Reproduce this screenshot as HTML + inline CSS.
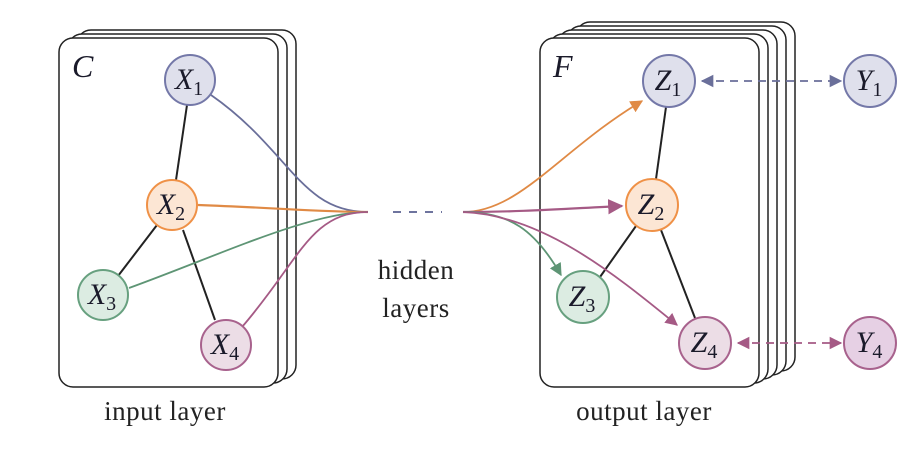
<!DOCTYPE html>
<html><head><meta charset="utf-8"><style>
html,body{margin:0;padding:0;background:#fff;}
svg{display:block;}
text{font-family:"Liberation Serif",serif;}
.m{font-style:italic;font-size:30px;fill:#1a1a2a;}
.s{font-size:20px;font-style:normal;}
</style></head><body>
<svg width="920" height="450" viewBox="0 0 920 450" xmlns="http://www.w3.org/2000/svg">
<defs>
<marker id="ao" viewBox="0 0 10 10" refX="9" refY="5" markerWidth="7" markerHeight="7" orient="auto-start-reverse"><path d="M0,0L10,5L0,10z" fill="#e08a45"/></marker>
<marker id="ap" viewBox="0 0 10 10" refX="9" refY="5" markerWidth="7" markerHeight="7" orient="auto-start-reverse"><path d="M0,0L10,5L0,10z" fill="#a55a85"/></marker>
<marker id="ag" viewBox="0 0 10 10" refX="9" refY="5" markerWidth="7" markerHeight="7" orient="auto-start-reverse"><path d="M0,0L10,5L0,10z" fill="#5e9575"/></marker>
<marker id="ab" viewBox="0 0 10 10" refX="9" refY="5" markerWidth="7" markerHeight="7" orient="auto-start-reverse"><path d="M0,0L10,5L0,10z" fill="#6a6f9a"/></marker>
</defs>
<g fill="#fff" stroke="#222" stroke-width="1.5">
<rect x="77" y="30" width="219" height="349" rx="14"/>
<rect x="68" y="34" width="219" height="349" rx="14"/>
<rect x="59" y="38" width="219" height="349" rx="14"/>
<rect x="576" y="22" width="219" height="349" rx="14"/>
<rect x="567" y="26" width="219" height="349" rx="14"/>
<rect x="558" y="30" width="219" height="349" rx="14"/>
<rect x="549" y="34" width="219" height="349" rx="14"/>
<rect x="540" y="38" width="219" height="349" rx="14"/>
</g>
<text x="72" y="77" class="m" style="font-size:32px">C</text>
<text x="553" y="77" class="m" style="font-size:32px">F</text>
<g stroke="#222" stroke-width="2">
<line x1="187" y1="105" x2="176" y2="180"/>
<line x1="157" y1="225" x2="118" y2="276"/>
<line x1="183" y1="230" x2="215" y2="320"/>
<line x1="666" y1="107" x2="656" y2="179"/>
<line x1="636" y1="226" x2="600" y2="277"/>
<line x1="661" y1="230" x2="695" y2="318"/>
</g>
<g fill="none" stroke-width="1.8">
<path d="M211,95 C290,150 300,212 368,212" stroke="#6a6f9a"/>
<path d="M198,205 C280,208 320,212 368,212" stroke="#e08a45" stroke-width="2.2"/>
<path d="M129,288 C220,255 310,212 368,212" stroke="#5e9575"/>
<path d="M242,327 C300,260 310,212 368,212" stroke="#a55a85"/>
<line x1="393" y1="212" x2="442" y2="212" stroke="#5a6090" stroke-dasharray="8,8"/>
<path d="M463,212 C520,212 560,150 642,101" stroke="#e08a45" marker-end="url(#ao)"/>
<path d="M463,212 C520,212 560,209 622,206" stroke="#a55a85" stroke-width="2.2" marker-end="url(#ap)"/>
<path d="M463,212 C510,212 535,230 561,275" stroke="#5e9575" marker-end="url(#ag)"/>
<path d="M463,212 C540,215 610,270 677,325" stroke="#a55a85" marker-end="url(#ap)"/>
<line x1="702" y1="81" x2="841" y2="81" stroke="#6a6f9a" stroke-dasharray="8,6" marker-start="url(#ab)" marker-end="url(#ab)"/>
<line x1="738" y1="343" x2="841" y2="343" stroke="#a55a85" stroke-dasharray="8,6" marker-start="url(#ap)" marker-end="url(#ap)"/>
</g>
<g stroke-width="2">
<circle cx="190" cy="80" r="25" fill="#dfe0ec" stroke="#7478a8"/>
<circle cx="172" cy="205" r="25" fill="#fce6d4" stroke="#ef9147"/>
<circle cx="103" cy="295" r="25" fill="#dcece2" stroke="#67a07f"/>
<circle cx="226" cy="345" r="25" fill="#ecdde6" stroke="#a8628d"/>
<circle cx="669" cy="81" r="26" fill="#dfe0ec" stroke="#7478a8"/>
<circle cx="652" cy="205" r="26" fill="#fce6d4" stroke="#ef9147"/>
<circle cx="583" cy="297" r="26" fill="#dcece2" stroke="#67a07f"/>
<circle cx="705" cy="343" r="26" fill="#ecdde6" stroke="#a8628d"/>
<circle cx="870" cy="81" r="26" fill="#dfe0ec" stroke="#7478a8"/>
<circle cx="870" cy="343" r="26" fill="#e6d0e4" stroke="#a8628d"/>
</g>
<g class="m" text-anchor="middle">
<text x="189" y="89">X<tspan class="s" dy="6">1</tspan></text>
<text x="171" y="214">X<tspan class="s" dy="6">2</tspan></text>
<text x="102" y="304">X<tspan class="s" dy="6">3</tspan></text>
<text x="225" y="354">X<tspan class="s" dy="6">4</tspan></text>
<text x="668" y="90">Z<tspan class="s" dy="6">1</tspan></text>
<text x="651" y="214">Z<tspan class="s" dy="6">2</tspan></text>
<text x="582" y="306">Z<tspan class="s" dy="6">3</tspan></text>
<text x="704" y="352">Z<tspan class="s" dy="6">4</tspan></text>
<text x="869" y="90">Y<tspan class="s" dy="6">1</tspan></text>
<text x="869" y="352">Y<tspan class="s" dy="6">4</tspan></text>
</g>
<g font-size="27" fill="#222" text-anchor="middle" letter-spacing="0.5" style="font-family:'Liberation Serif',serif">
<text x="416" y="279">hidden</text>
<text x="416" y="317">layers</text>
<text x="165" y="420">input layer</text>
<text x="644" y="420">output layer</text>
</g>
</svg>
</body></html>
